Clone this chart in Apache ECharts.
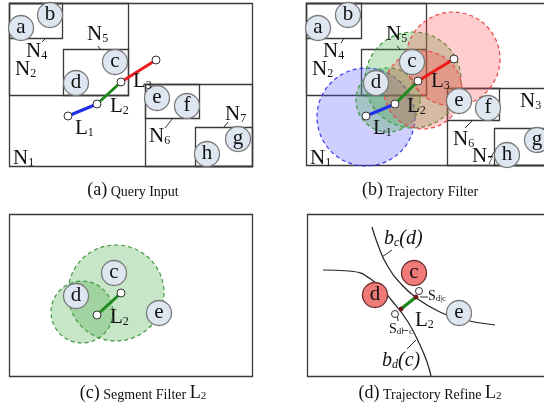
<!DOCTYPE html>
<html><head><meta charset="utf-8">
<script src="https://cdn.jsdelivr.net/npm/echarts@6/dist/echarts.min.js"></script>
<style>html,body{margin:0;padding:0;background:#fff}#c{width:544px;height:415px}</style>
</head><body><div id="c"></div>
<script>
// ---- data (diagram coordinates, y downward) ----
const rectsA = [[9,3,252,166],[9,3,62,38],[9,3,128,95],[63,49,128,95],[145,84,252,166],[145,84,199,118],[195,127,252,166]];
const rectsB = [[306,3,580,165],[306,3,361,38],[306,3,426,95],[361,49,426,95],[447,88,580,165],[447,88,499,120],[494,128,580,165]];
const rectsC = [[9,214,252,376]];
const rectsD = [[307,214,580,376]];

const objA = [['a',21,28],['b',50,15],['c',115,62],['d',76,83],['e',157,98],['f',187,106],['g',238,139],['h',207,154]];
const objB = [['a',318,28],['b',348,15],['c',412,62],['d',376,83],['e',459,101],['f',488,108],['g',537,140],['h',507,155]];
const objC = [['c',114,273],['d',76,296],['e',159,313]];
const objDRed = [['c',414,273],['d',375,295]];
const objDBlue = [['e',459,313]];

const trajA = [[68,116],[97,104],[121,82],[156,60]];
const trajB = [[366,116],[395,104],[418,81],[454,59]];
const segC = [[97,315],[121,293]];
const segD = [[401,309],[416,297]];
const openD = [[419,291],[395,314]];

const blueB = [[366,117,49]];
const greenB = [[388,100,32],[413,80,48]];
const redB = [[423,90,39],[453,59,47]];
const greenC = [[116,293,48],[82,312,31]];

const curveBcD = [[372,227],[378,245],[387,265],[402,285],[418,299],[438,311],[460,319],[495,325]];
const curveBdC = [[323,270],[349,271],[372,280],[393,302],[408,322],[420,345],[427,362],[431,376]];

const labA = [['N','4',26,50],['N','2',15,68],['N','5',87,33],['N','1',13,157],['L','1',75,127],['L','2',110,105],['L','3',133,80],['N','6',149,135],['N','7',225,113]];
const labB = [['N','4',323,50],['N','2',312,68],['N','5',386,33],['N','1',310,157],['L','1',373,127],['L','2',407,105],['L','3',431,80],['N','6',453,138],['N','7',472,155],['N','3',520,100]];
const labC = [['L','2',110,316]];
const labD = [['L','2',415,319]];
const sLabels = [['S','d|c',428,295],['S','d\u22a2c',389,328]];
const bLabels = [['b','c','(d)',384,238],['b','d','(c)',382,360]];

const leaders = [[42,42,46,38],[98,46,100,49],[165,128,173,118],[224,127,228,122],
                 [341,43,344,38],[397,46,400,49],[465,128,473,120],[490,158,495,151],
                 [382,257,392,250],[407,349,416,340],[397,313,398,321],[420,297,428,297]];

const captions = [['(a)',' Query Input','',133,189],['(b)',' Trajectory Filter','',420,189],
                  ['(c)',' Segment Filter ','2',143,392],['(d)',' Trajectory Refine ','2',430,392]];

// ---- rendering ----
const SERIF = "'Liberation Serif','DejaVu Serif',serif";
const chart = echarts.init(document.getElementById('c'), null, {renderer:'canvas'});

function rectSeries(rects){
  return {type:'custom', data: rects, encode:{x:[0,2], y:[1,3]}, z:1,
    renderItem(p, api){
      const a = api.coord([api.value(0), api.value(1)]);
      const b = api.coord([api.value(2), api.value(3)]);
      return {type:'rect', shape:{x:a[0]+0.5, y:a[1]+0.5, width:b[0]-a[0], height:b[1]-a[1]},
              style:{fill:'none', stroke:'#3a3a3a', lineWidth:1.3}};
    }};
}
function fillSeries(circles, fill, stroke){
  return {type:'custom', data: circles, encode:{x:0, y:1}, z:2,
    renderItem(p, api){
      const c = api.coord([api.value(0), api.value(1)]);
      const r = api.size([api.value(2), 0])[0];
      return {type:'circle', shape:{cx:c[0], cy:c[1], r:r},
              style:{fill:fill, stroke:stroke, lineWidth:1.2, lineDash:[4,3]}};
    }};
}
function objSeries(objs, fill, stroke){
  return {type:'custom', data: objs.map(o=>[o[1],o[2]]), encode:{x:0, y:1}, z:4,
    renderItem(p, api){
      const c = api.coord([api.value(0), api.value(1)]);
      const r = api.size([12.5, 0])[0];
      return {type:'group', children:[
        {type:'circle', shape:{cx:c[0], cy:c[1], r:r}, style:{fill:fill, stroke:stroke, lineWidth:1.3}},
        {type:'text', x:c[0], y:c[1]-1, style:{text:objs[p.dataIndex][0], fontFamily:SERIF, fontSize:21,
          fill:'#111', align:'center', verticalAlign:'middle'}}
      ]};
    }};
}
function segSeries(pts, color, w){
  return {type:'line', data: pts, symbol:'none', z:5, lineStyle:{color:color, width:w}};
}
function curveSeries(pts){
  return {type:'line', data: pts, symbol:'none', smooth:0.5, z:3, lineStyle:{color:'#222', width:1.2}};
}
function dotSeries(pts, size, fill, border){
  return {type:'scatter', data: pts, symbolSize:size, z:6,
    itemStyle:{color:fill, borderColor:border, borderWidth:1, opacity:1}};
}
const subRich = (fs, sfs) => ({
  m:{fontFamily:SERIF, fontSize:fs, fill:'#111', lineHeight:fs+2, verticalAlign:'bottom'},
  s:{fontFamily:SERIF, fontSize:sfs, fill:'#111', lineHeight:sfs+2, verticalAlign:'bottom', padding:[0,0,0,0]}
});
function labelSeries(labs){
  return {type:'custom', data: labs.map(l=>[l[2],l[3]]), encode:{x:0,y:1}, z:7,
    renderItem(p, api){
      const l = labs[p.dataIndex];
      const c = api.coord([api.value(0), api.value(1)]);
      return {type:'text', x:c[0], y:c[1], style:{text:'{m|'+l[0]+'}{s|'+l[1]+'}', rich:subRich(21,12),
        align:'left', verticalAlign:'middle'}};
    }};
}
function sLabelSeries(labs){
  return {type:'custom', data: labs.map(l=>[l[2],l[3]]), encode:{x:0,y:1}, z:7,
    renderItem(p, api){
      const l = labs[p.dataIndex];
      const c = api.coord([api.value(0), api.value(1)]);
      return {type:'text', x:c[0], y:c[1], style:{text:'{m|'+l[0]+'}{s|'+l[1]+'}', rich:subRich(14,9),
        align:'left', verticalAlign:'middle'}};
    }};
}
function bLabelSeries(labs){
  return {type:'custom', data: labs.map(l=>[l[3],l[4]]), encode:{x:0,y:1}, z:7,
    renderItem(p, api){
      const l = labs[p.dataIndex];
      const c = api.coord([api.value(0), api.value(1)]);
      const rich = {
        m:{fontFamily:SERIF, fontStyle:'italic', fontSize:20, fill:'#111', lineHeight:22, verticalAlign:'bottom'},
        s:{fontFamily:SERIF, fontStyle:'italic', fontSize:12, fill:'#111', lineHeight:14, verticalAlign:'bottom'}
      };
      return {type:'text', x:c[0], y:c[1], style:{text:'{m|'+l[0]+'}{s|'+l[1]+'}{m|'+l[2]+'}', rich:rich,
        align:'left', verticalAlign:'middle'}};
    }};
}
function leaderSeries(ls){
  return {type:'custom', data: ls, encode:{x:[0,2], y:[1,3]}, z:6,
    renderItem(p, api){
      const a = api.coord([api.value(0), api.value(1)]);
      const b = api.coord([api.value(2), api.value(3)]);
      return {type:'line', shape:{x1:a[0], y1:a[1], x2:b[0], y2:b[1]}, style:{stroke:'#333', lineWidth:1}};
    }};
}
function captionSeries(caps){
  return {type:'custom', data: caps.map(c=>[c[3],c[4]]), encode:{x:0,y:1}, z:7,
    renderItem(p, api){
      const k = caps[p.dataIndex];
      const c = api.coord([api.value(0), api.value(1)]);
      let t = '{p|'+k[0]+'}{t|'+k[1]+'}';
      if (k[2]) t += '{l|L}{s|'+k[2]+'}';
      const rich = {
        p:{fontFamily:SERIF, fontSize:18, fill:'#111', lineHeight:20, verticalAlign:'bottom'},
        t:{fontFamily:SERIF, fontSize:14, fill:'#111', lineHeight:16, verticalAlign:'bottom'},
        l:{fontFamily:SERIF, fontSize:18, fill:'#111', lineHeight:20, verticalAlign:'bottom'},
        s:{fontFamily:SERIF, fontSize:11, fill:'#111', lineHeight:13, verticalAlign:'bottom'}
      };
      return {type:'text', x:c[0], y:c[1], style:{text:t, rich:rich, align:'center', verticalAlign:'middle'}};
    }};
}

const BLUE='#2030e8', GREEN='#1e8a1e', RED='#ee1b1b';
const series = [
  rectSeries(rectsA.concat(rectsB, rectsC, rectsD)),
  fillSeries(blueB, 'rgba(80,80,255,0.28)', '#3a3af0'),
  fillSeries(greenB, 'rgba(70,170,70,0.30)', '#3c9a3c'),
  fillSeries(redB, 'rgba(255,70,70,0.27)', '#e84a4a'),
  fillSeries(greenC, 'rgba(70,170,70,0.30)', '#3c9a3c'),
  curveSeries(curveBcD), curveSeries(curveBdC),
  objSeries(objA, '#dde6f1', '#7a7a7a'),
  objSeries(objB, '#dde6f1', '#7a7a7a'),
  objSeries(objC, '#dde6f1', '#7a7a7a'),
  objSeries(objDBlue, '#dde6f1', '#7a7a7a'),
  objSeries(objDRed, '#f07a78', '#6a3030'),
  segSeries(trajA.slice(0,2), BLUE, 3), segSeries(trajA.slice(1,3), GREEN, 3), segSeries(trajA.slice(2,4), RED, 3),
  segSeries(trajB.slice(0,2), BLUE, 3), segSeries(trajB.slice(1,3), GREEN, 3), segSeries(trajB.slice(2,4), RED, 3),
  segSeries(segC, GREEN, 3), segSeries(segD, GREEN, 3.5),
  dotSeries(trajA.concat(trajB, segC), 8, '#fff', '#333'),
  dotSeries(openD, 7, '#fff', '#333'),
  dotSeries(segD, 4, '#6b1515', '#6b1515'),
  leaderSeries(leaders),
  labelSeries(labA.concat(labB, labC, labD)),
  sLabelSeries(sLabels),
  bLabelSeries(bLabels),
  captionSeries(captions)
];

chart.setOption({
  animation:false,
  backgroundColor:'#fff',
  grid:{left:0, right:0, top:0, bottom:0},
  xAxis:{type:'value', min:0, max:544, show:false},
  yAxis:{type:'value', min:0, max:415, inverse:true, show:false},
  series: series
});
</script></body></html>
